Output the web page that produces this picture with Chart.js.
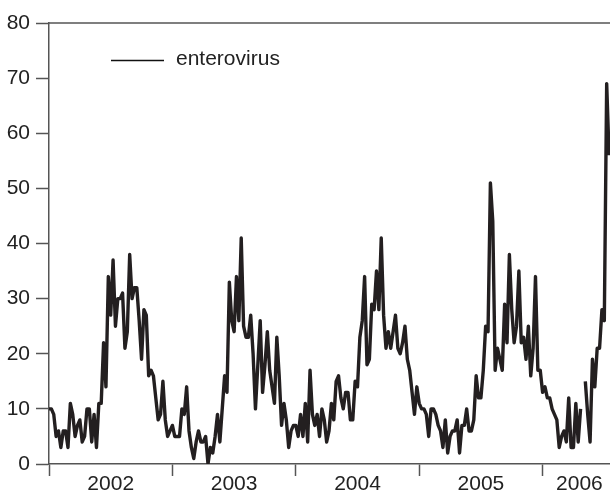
<!DOCTYPE html>
<html>
<head>
<meta charset="utf-8">
<script src="https://cdn.jsdelivr.net/npm/chart.js@4.4.1/dist/chart.umd.min.js"></script>
<style>
  html, body { margin: 0; padding: 0; background: #fff; }
  #wrap { width: 610px; height: 492px; position: relative; }
</style>
</head>
<body>
<div id="wrap"><canvas id="chart"></canvas></div>
<script>
// weekly enterovirus counts, one array per year
const seriesName = 'enterovirus';
const yearLabels = ['2002', '2003', '2004', '2005', '2006'];

const cases2002 = [10, 10, 9, 5, 6, 3, 6, 6, 3, 11, 9, 5, 7, 8, 4, 5, 10, 10, 4, 9, 3, 11, 11, 22, 14, 34,
  27, 37, 25, 30, 30, 31, 21, 24, 38, 30, 32, 32, 26, 19, 28, 27, 16, 17, 16, 12, 8, 9, 15, 8, 5, 6];
const cases2003 = [7, 5, 5, 5, 10, 9, 14, 6, 3, 1, 4, 6, 4, 4, 5, 0, 3, 2, 5, 9, 4, 10, 16, 13, 33, 26,
  24, 34, 26, 41, 25, 23, 23, 27, 20, 10, 18, 26, 13, 18, 24, 17, 14, 11, 23, 16, 7, 11, 8, 3, 6, 7];
const cases2004 = [7, 5, 9, 5, 11, 4, 17, 9, 7, 9, 5, 10, 8, 4, 6, 11, 8, 15, 16, 12, 10, 13, 13, 8, 8, 15,
  14, 23, 26, 34, 18, 19, 29, 28, 35, 28, 41, 27, 21, 24, 21, 24, 27, 21, 20, 22, 25, 19, 17, 13, 9, 14];
const cases2005 = [11, 10, 10, 9, 5, 10, 10, 9, 7, 6, 3, 8, 2, 5, 6, 6, 8, 2, 7, 7, 10, 6, 6, 8, 16, 12,
  12, 17, 25, 24, 51, 44, 17, 21, 19, 17, 29, 22, 38, 28, 22, 25, 35, 22, 23, 19, 25, 16, 21, 34, 17, 17];
const cases2006 = [13, 14, 12, 12, 10, 9, 8, 3, 5, 6, 4, 12, 3, 3, 11, 4, 10, null, 15, 9, 4, 19, 14, 21,
  21, 28, 26, 69, 56];

const yTicks = [0, 10, 20, 30, 40, 50, 60, 70, 80];
const yearStartWeeks = [0, 52, 104, 156, 208];
const yearLabelWeeks = [26, 78, 130, 182, 223.5];
const weekMax = 236.4;

const cases = [].concat(cases2002, cases2003, cases2004, cases2005, cases2006);
const points = cases.map((v, i) => ({ x: i, y: v }));

const axisColor = '#555';
const textColor = '#222';
const fontFamily = '"Liberation Sans", Arial, Helvetica, sans-serif';

// top frame line + legend drawn inside the plot
const framePlugin = {
  id: 'frame',
  afterDraw(chart) {
    const { ctx, chartArea } = chart;
    ctx.save();
    ctx.strokeStyle = axisColor;
    ctx.lineWidth = 1.5;
    ctx.beginPath();
    ctx.moveTo(chartArea.left, chartArea.top);
    ctx.lineTo(chartArea.right, chartArea.top);
    ctx.stroke();

    ctx.strokeStyle = '#111';
    ctx.lineWidth = 1.5;
    ctx.beginPath();
    ctx.moveTo(111, 60.5);
    ctx.lineTo(164, 60.5);
    ctx.stroke();
    ctx.fillStyle = textColor;
    ctx.font = '21px ' + fontFamily;
    ctx.textBaseline = 'middle';
    ctx.fillText(seriesName, 176, 59);
    ctx.restore();
  }
};

const ctx = document.getElementById('chart').getContext('2d');
new Chart(ctx, {
  type: 'line',
  data: {
    datasets: [{
      label: seriesName,
      data: points,
      borderColor: '#231f20',
      borderWidth: 3.4,
      borderJoinStyle: 'round',
      pointRadius: 0,
      tension: 0,
      fill: false,
      spanGaps: false
    }]
  },
  options: {
    responsive: true,
    maintainAspectRatio: false,
    animation: false,
    layout: { padding: { top: 23, right: 0, bottom: 0, left: 0 } },
    plugins: {
      legend: { display: false },
      tooltip: { enabled: false }
    },
    scales: {
      x: {
        type: 'linear',
        min: 0,
        max: weekMax,
        afterFit: (scale) => { scale.height = 28; },
        afterBuildTicks: (scale) => {
          scale.ticks = yearStartWeeks.concat(yearLabelWeeks)
            .sort((a, b) => a - b)
            .map(v => ({ value: v }));
        },
        border: { color: axisColor, width: 1.5 },
        grid: {
          drawOnChartArea: false,
          tickLength: 12,
          tickWidth: 1.5,
          tickColor: (c) => yearStartWeeks.includes(c.tick && c.tick.value) ? axisColor : 'rgba(0,0,0,0)'
        },
        ticks: {
          autoSkip: false,
          maxRotation: 0,
          padding: -4,
          color: textColor,
          font: { size: 21, family: fontFamily },
          callback: (value) => {
            const i = yearLabelWeeks.indexOf(value);
            return i >= 0 ? yearLabels[i] : '';
          }
        }
      },
      y: {
        min: 0,
        max: 80,
        afterFit: (scale) => { scale.width = 49; },
        afterBuildTicks: (scale) => {
          scale.ticks = yTicks.map(v => ({ value: v }));
        },
        border: { color: axisColor, width: 1.5 },
        grid: {
          drawOnChartArea: false,
          tickLength: 13,
          tickWidth: 1.5,
          tickColor: axisColor
        },
        ticks: {
          padding: 6,
          color: textColor,
          font: { size: 21, family: fontFamily }
        }
      }
    }
  },
  plugins: [framePlugin]
});
</script>
</body>
</html>
